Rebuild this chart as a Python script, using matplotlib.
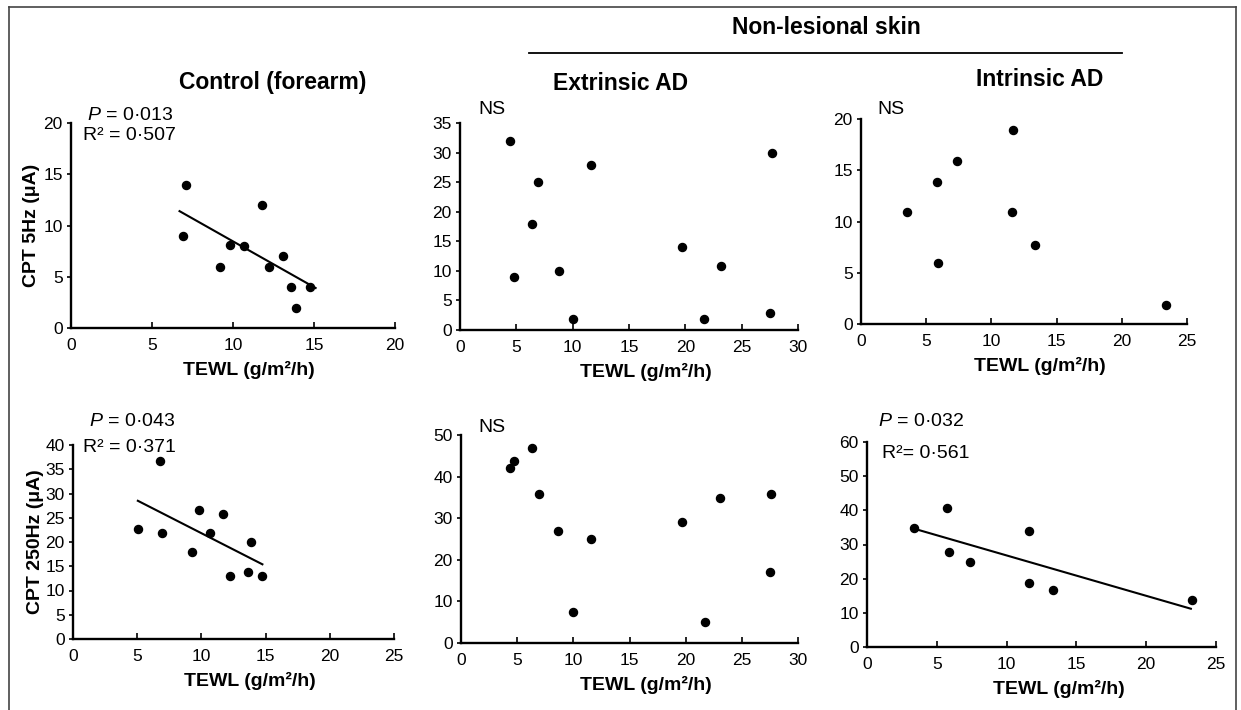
"""CPT vs TEWL scatter panels: control forearm and non-lesional skin (extrinsic / intrinsic AD)."""

import matplotlib

matplotlib.use("Agg")
import matplotlib.pyplot as plt
from matplotlib.lines import Line2D

# --- data ---------------------------------------------------------------------
ctrl_5_x = [7.1, 6.9, 9.2, 9.8, 10.7, 11.8, 12.2, 13.1, 13.6, 13.9, 14.75]
ctrl_5_y = [14.0, 9.0, 6.0, 8.1, 8.0, 12.0, 6.0, 7.0, 4.0, 2.0, 4.0]
ctrl_5_fit_x = [6.7, 15.1]
ctrl_5_fit_y = [11.4, 3.9]

ext_5_x = [4.45, 4.8, 6.35, 6.95, 8.75, 10.0, 11.6, 19.7, 21.7, 23.2, 27.7, 27.5]
ext_5_y = [32.0, 9.0, 18.0, 25.1, 10.0, 1.8, 27.9, 14.0, 1.9, 10.9, 30.0, 2.9]

int_5_x = [3.5, 5.8, 5.9, 7.35, 11.65, 11.6, 13.35, 23.4]
int_5_y = [10.9, 13.9, 6.0, 15.9, 18.9, 10.9, 7.7, 1.9]

ctrl_250_x = [5.05, 6.75, 6.95, 9.25, 9.8, 10.7, 11.65, 12.2, 13.6, 13.9, 14.75]
ctrl_250_y = [22.7, 36.8, 21.8, 17.9, 26.6, 21.8, 25.8, 12.9, 13.8, 19.9, 12.9]
ctrl_250_fit_x = [5.05, 14.75]
ctrl_250_fit_y = [28.5, 15.4]

ext_250_x = [4.4, 4.75, 6.3, 6.9, 8.65, 10.0, 11.6, 19.7, 21.7, 23.1, 27.6, 27.5]
ext_250_y = [42.0, 43.8, 46.8, 35.8, 27.0, 7.4, 25.0, 29.0, 5.0, 34.9, 35.8, 17.1]

int_250_x = [3.4, 5.7, 5.9, 7.35, 11.6, 11.6, 13.3, 23.3]
int_250_y = [34.9, 40.8, 27.8, 24.9, 33.9, 18.8, 16.8, 13.7]
int_250_fit_x = [3.4, 23.2]
int_250_fit_y = [34.6, 11.2]

W, H = 1241, 710
plt.rcParams["font.family"] = ["Liberation Sans", "DejaVu Sans"]
plt.rcParams["mathtext.fontset"] = "custom"
plt.rcParams["mathtext.rm"] = "Liberation Sans"
plt.rcParams["mathtext.it"] = "Liberation Sans:italic"

fig = plt.figure(figsize=(W / 100, H / 100), dpi=100)


def px_axes(x0, y0, x1, y1):
    """axes from pixel box (left, top, right, bottom)"""
    return fig.add_axes([x0 / W, 1 - y1 / H, (x1 - x0) / W, (y1 - y0) / H])


def style(ax, xmax, ymax, ystep, xstep=5):
    ax.set_xlim(0, xmax)
    ax.set_ylim(0, ymax)
    ax.set_xticks(range(0, xmax + 1, xstep))
    ax.set_yticks(range(0, ymax + 1, ystep))
    for s in ("top", "right"):
        ax.spines[s].set_visible(False)
    for s in ("left", "bottom"):
        ax.spines[s].set_linewidth(1.7)
    ax.tick_params(axis="x", direction="in", length=4, width=1.2, pad=7, labelsize=12.5)
    ax.tick_params(axis="y", direction="out", length=3, width=1.2, pad=3, labelsize=12.5)
    ax.set_xlabel("TEWL (g/m²/h)", fontsize=14, fontweight="bold", labelpad=6, x=0.55)


def scatter(ax, xs, ys):
    ax.plot(xs, ys, "o", color="black", markersize=5.8, clip_on=False)


def fig_text(x, y, s, **kw):
    fig.text(x / W, 1 - y / H, s, va="center", **kw)


panels = [
    ((71, 123, 395, 328), ctrl_5_x, ctrl_5_y, (ctrl_5_fit_x, ctrl_5_fit_y), 20, 20, 5),
    ((460, 123, 798, 330), ext_5_x, ext_5_y, None, 30, 35, 5),
    ((861, 119, 1187, 324), int_5_x, int_5_y, None, 25, 20, 5),
    ((73, 445, 394, 639), ctrl_250_x, ctrl_250_y, (ctrl_250_fit_x, ctrl_250_fit_y), 25, 40, 5),
    ((461, 435, 798, 643), ext_250_x, ext_250_y, None, 30, 50, 10),
    ((867, 442, 1216, 647), int_250_x, int_250_y, (int_250_fit_x, int_250_fit_y), 25, 60, 10),
]

axes = []
for box, xs, ys, fit, xmax, ymax, ystep in panels:
    ax = px_axes(*box)
    style(ax, xmax, ymax, ystep)
    scatter(ax, xs, ys)
    if fit:
        ax.plot(fit[0], fit[1], "-", color="black", linewidth=1.5)
    axes.append(ax)

axes[0].set_ylabel("CPT 5Hz (μA)", fontsize=14, fontweight="bold", labelpad=2)
axes[3].set_ylabel("CPT 250Hz (μA)", fontsize=14, fontweight="bold", labelpad=1)

# column titles
fig_text(273, 83, "Control (forearm)", fontsize=16.5, fontweight="bold", ha="center")
fig_text(621, 83, "Extrinsic AD", fontsize=16.5, fontweight="bold", ha="center")
fig_text(1040, 80, "Intrinsic AD", fontsize=16.5, fontweight="bold", ha="center")
fig_text(826, 27, "Non-lesional skin", fontsize=16.5, fontweight="bold", ha="center")
fig.add_artist(Line2D([529 / W, 1122 / W], [1 - 53 / H, 1 - 53 / H], color="black", linewidth=1.3))

# statistics
stat_kw = dict(fontsize=14, ha="left")
fig_text(87, 115, r"$\mathit{P}$ = 0·013", **stat_kw)
fig_text(83, 135, "R² = 0·507", **stat_kw)
fig_text(89, 422, r"$\mathit{P}$ = 0·043", **stat_kw)
fig_text(83, 447, "R² = 0·371", **stat_kw)
fig_text(878, 422, r"$\mathit{P}$ = 0·032", **stat_kw)
fig_text(882, 453, "R²= 0·561", **stat_kw)
fig_text(478, 110, "NS", **stat_kw)
fig_text(877, 110, "NS", **stat_kw)
fig_text(478, 427, "NS", **stat_kw)

# outer frame (left, top, right)
frame_kw = dict(color="#444444", linewidth=1.2)
fig.add_artist(Line2D([9 / W, 9 / W], [0, 1 - 7 / H], **frame_kw))
fig.add_artist(Line2D([9 / W, 1236 / W], [1 - 7 / H, 1 - 7 / H], **frame_kw))
fig.add_artist(Line2D([1236 / W, 1236 / W], [0, 1 - 7 / H], **frame_kw))

fig.savefig("out.png", dpi=100)
